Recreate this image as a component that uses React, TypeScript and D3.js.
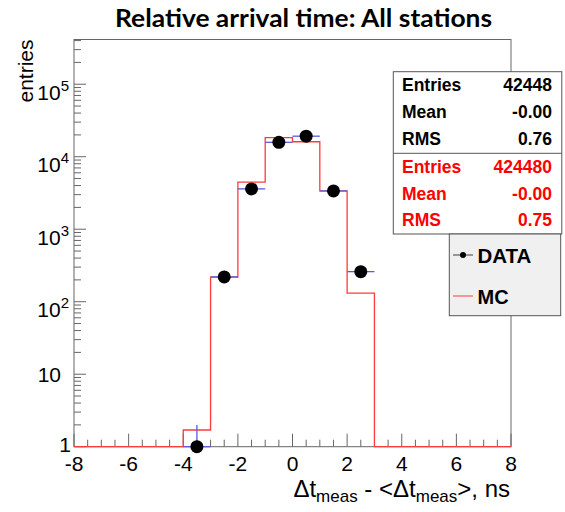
import * as d3 from "d3";

// histogram binning (bin lower edges, width 1)
const binLow = [-8, -7, -6, -5, -4, -3, -2, -1, 0, 1, 2, 3, 4, 5, 6, 7];
const dataCounts = [0, 0, 0, 0, 1, 220, 3600, 15800, 19200, 3370, 260, 0, 0, 0, 0, 0];
const mcCounts = [0, 0, 0, 0, 1.7, 218, 4450, 18300, 16100, 3370, 131, 0, 0, 0, 0, 0];

const xMajorTicks = [-8, -6, -4, -2, 0, 2, 4, 6, 8];
const yDecades = [1, 10, 100, 1000, 10000, 100000];
const yExponents = ["", "", "2", "3", "4", "5"];

const statLabels = ["Entries", "Mean", "RMS"];
const dataStats = ["42448", "-0.00", "0.76"];
const mcStats = ["424480", "-0.00", "0.75"];

const W = 565;
const H = 512;
const left = 74;
const right = 511;
const top = 39.5;
const bottom = 446.7;

const AXIS = "#666";
const FONT = "'Liberation Sans', Arial, sans-serif";

export default function App() {
  const x = d3.scaleLinear().domain([-8, 8]).range([left, right]);
  const y = d3.scaleLog().domain([1, 4.14e5]).range([bottom, top]).clamp(true);

  // MC step path
  const mcPoints: [number, number][] = [];
  binLow.forEach((lo, i) => {
    mcPoints.push([lo, Math.max(mcCounts[i], 1)]);
  });
  mcPoints.push([8, Math.max(mcCounts[mcCounts.length - 1], 1)]);
  const mcLine = d3
    .line<[number, number]>()
    .x((d) => x(d[0]))
    .y((d) => y(d[1]))
    .curve(d3.curveStepAfter);

  // minor ticks
  const xMinor: number[] = [];
  for (let v = -8; v <= 8.001; v += 0.5) xMinor.push(v);
  const yMinor: number[] = [];
  yDecades.forEach((dec) => {
    for (let k = 2; k <= 9; k++) {
      if (dec * k <= 4.14e5) yMinor.push(dec * k);
    }
  });

  return (
    <svg width={W} height={H} style={{ position: "absolute", left: 0, top: 0, background: "#fff" }}>
      {/* title */}
      <text
        x={115}
        y={27}
        textLength={377}
        lengthAdjust="spacingAndGlyphs"
        fontFamily="Lato, 'Open Sans', sans-serif"
        fontWeight="bold"
        fontSize={25}
      >
        Relative arrival time: All stations
      </text>

      {/* frame */}
      <rect x={left} y={top} width={right - left} height={bottom - top} fill="#fff" stroke={AXIS} strokeWidth={1} />

      {/* x ticks */}
      {xMinor.map((v, i) => {
        const major = xMajorTicks.includes(Math.round(v * 100) / 100);
        return (
          <line key={"xm" + i} x1={x(v)} x2={x(v)} y1={bottom} y2={bottom - (major ? 13 : 7)} stroke={AXIS} strokeWidth={1} />
        );
      })}
      {/* y ticks */}
      {yDecades.map((v) => (
        <line key={"yd" + v} x1={left} x2={left + 12} y1={y(v)} y2={y(v)} stroke={AXIS} strokeWidth={1} />
      ))}
      {yMinor.map((v) => (
        <line key={"yn" + v} x1={left} x2={left + 7} y1={y(v)} y2={y(v)} stroke={AXIS} strokeWidth={1} />
      ))}

      {/* x tick labels */}
      {xMajorTicks.map((v) => (
        <text key={"xl" + v} x={x(v)} y={471} textAnchor="middle" fontFamily={FONT} fontSize={21}>
          {v}
        </text>
      ))}
      {/* y tick labels */}
      {yDecades.map((v, i) => {
        if (yExponents[i] === "") {
          return (
            <text key={"yl" + v} x={v === 1 ? 71 : 61} y={y(v) + (v === 1 ? 5.5 : 7.5)} textAnchor="end" fontFamily={FONT} fontSize={21}>
              {v}
            </text>
          );
        }
        return (
          <text key={"yl" + v} x={69} y={y(v) + 15.5} textAnchor="end" fontFamily={FONT} fontSize={21}>
            10
            <tspan fontSize={15} dy={-9}>
              {yExponents[i]}
            </tspan>
          </text>
        );
      })}

      {/* axis titles */}
      <text transform={`translate(33,${top}) rotate(-90)`} textAnchor="end" fontFamily={FONT} fontSize={21}>
        entries
      </text>
      <text x={510} y={497} textAnchor="end" fontFamily={FONT} fontSize={24}>
        Δt
        <tspan fontSize={17} dy={5}>meas</tspan>
        <tspan dy={-5}> - &lt;Δt</tspan>
        <tspan fontSize={17} dy={5}>meas</tspan>
        <tspan dy={-5}>&gt;, ns</tspan>
      </text>

      {/* MC histogram */}
      <path d={mcLine(mcPoints) || ""} fill="none" stroke="#ff3b3b" strokeWidth={1.3} />

      {/* data error bars */}
      {binLow.map((lo, i) => {
        const n = dataCounts[i];
        if (n <= 0) return null;
        const cx = x(lo + 0.5);
        const err = Math.sqrt(n);
        return (
          <g key={"eb" + i} stroke="#5a5ae0" strokeWidth={1.3}>
            <line x1={x(lo)} x2={x(lo + 1)} y1={y(n)} y2={y(n)} />
            <line x1={cx} x2={cx} y1={y(Math.max(n - err, 1))} y2={y(n + err)} />
          </g>
        );
      })}
      {/* data markers */}
      {binLow.map((lo, i) => {
        const n = dataCounts[i];
        if (n <= 0) return null;
        return <circle key={"pt" + i} cx={x(lo + 0.5)} cy={y(n)} r={6.5} fill="#000" />;
      })}

      {/* stats box */}
      <rect x={393.3} y={71.7} width={168.5} height={162.3} fill="#fff" stroke="#555" strokeWidth={1} />
      <line x1={393.3} x2={561.8} y1={153.3} y2={153.3} stroke="#555" strokeWidth={1} />
      {statLabels.map((lab, i) => (
        <g key={"st" + i} fontFamily={FONT} fontWeight="bold" fontSize={17.5}>
          <text x={402} y={91 + i * 26.8} fill="#000">
            {lab}
          </text>
          <text x={552} y={91 + i * 26.8} textAnchor="end" fill="#000">
            {dataStats[i]}
          </text>
          <text x={402} y={173 + i * 26.5} fill="#ff0000">
            {lab}
          </text>
          <text x={552} y={173 + i * 26.5} textAnchor="end" fill="#ff0000">
            {mcStats[i]}
          </text>
        </g>
      ))}

      {/* legend */}
      <rect x={449.3} y={234} width={111.4} height={81.7} fill="#f0f0f0" stroke="#555" strokeWidth={1} />
      <line x1={453} x2={473} y1={255} y2={255} stroke="#666" strokeWidth={1.3} />
      <circle cx={463} cy={255} r={3} fill="#000" />
      <text x={477.5} y={263.3} fontFamily={FONT} fontWeight="bold" fontSize={20.5}>
        DATA
      </text>
      <line x1={453} x2={473} y1={296} y2={296} stroke="#ff3b3b" strokeWidth={1} />
      <text x={477.5} y={304} fontFamily={FONT} fontWeight="bold" fontSize={20}>
        MC
      </text>
    </svg>
  );
}
